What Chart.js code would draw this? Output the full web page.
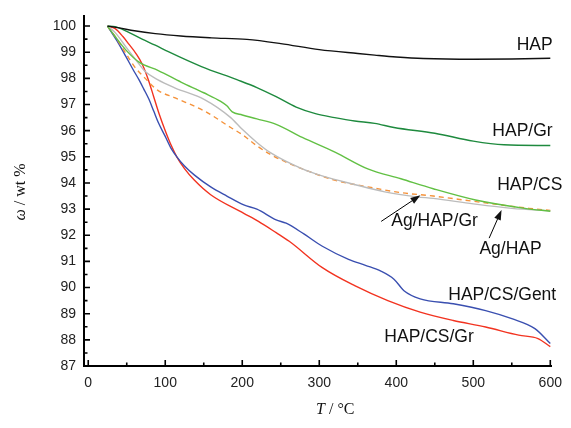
<!DOCTYPE html>
<html>
<head>
<meta charset="utf-8">
<script src="https://cdn.jsdelivr.net/npm/chart.js@4.4.1/dist/chart.umd.min.js"></script>
<style>
  html, body { margin:0; padding:0; background:#fff; }
  #wrap { width:571px; height:428px; }
</style>
</head>
<body>
<div id="wrap"><canvas id="tga" width="571" height="428"></canvas></div>
<script>
/* ---------- Data ---------- */
const hapT   = [25, 40, 60, 87, 120, 160, 206, 250, 300, 350, 372, 400, 435, 500, 550, 600];
const hapW   = [100, 99.93, 99.82, 99.71, 99.62, 99.55, 99.49, 99.33, 99.1, 98.95, 98.89, 98.82, 98.76, 98.73, 98.74, 98.77];

const hapGrT = [25, 35, 50, 70, 87, 104, 147, 193, 219, 244, 270, 295, 320, 346, 372, 397, 450, 500, 540, 600];
const hapGrW = [100, 99.98, 99.8, 99.5, 99.27, 99.02, 98.45, 97.95, 97.65, 97.3, 96.9, 96.65, 96.5, 96.37, 96.28, 96.12, 95.9, 95.6, 95.46, 95.43];

const hapCsT = [25, 35, 49, 66, 91, 121, 150, 172, 180, 187, 200, 219, 244, 278, 321, 363, 406, 448, 503, 567, 600];
const hapCsW = [100, 99.6, 99.08, 98.62, 98.3, 97.85, 97.45, 97.12, 96.95, 96.72, 96.6, 96.45, 96.24, 95.74, 95.17, 94.54, 94.16, 93.78, 93.35, 93.03, 92.92];

const agHapT = [25, 35, 49, 62, 74, 90, 113, 151, 185, 200, 219, 236, 278, 308, 342, 385, 427, 448, 500, 550, 600];
const agHapW = [100, 99.75, 99.2, 98.7, 98.26, 97.95, 97.63, 97.19, 96.5, 96.05, 95.55, 95.17, 94.54, 94.23, 93.97, 93.66, 93.47, 93.41, 93.2, 93.03, 92.93];

const agHapGrT = [25, 35, 50, 60, 74, 90, 113, 151, 185, 200, 219, 236, 278, 321, 363, 406, 448, 500, 572, 600];
const agHapGrW = [100, 99.6, 98.9, 98.45, 98.0, 97.55, 97.25, 96.75, 96.12, 95.85, 95.42, 95.1, 94.54, 94.1, 93.85, 93.63, 93.5, 93.3, 93.03, 92.95];

const gentT = [25, 37, 49, 58, 66, 72, 79, 85, 91, 100, 108, 115, 125, 138, 159, 180, 202, 219, 244, 257, 280, 304, 338, 360, 380, 397, 410, 431, 474, 516, 550, 580, 600];
const gentW = [100, 99.45, 98.83, 98.35, 97.94, 97.6, 97.19, 96.75, 96.31, 95.78, 95.3, 95.0, 94.65, 94.3, 93.85, 93.5, 93.16, 93.0, 92.59, 92.46, 92.05, 91.58, 91.08, 90.85, 90.63, 90.32, 89.88, 89.57, 89.38, 89.12, 88.81, 88.43, 87.86];

const csGrT = [25, 35, 45, 53, 62, 70, 78, 85, 92, 100, 108, 115, 125, 138, 159, 202, 221, 244, 261, 304, 346, 389, 431, 474, 516, 559, 584, 600];
const csGrW = [100, 99.9, 99.6, 99.3, 98.95, 98.55, 97.95, 97.3, 96.65, 96.0, 95.42, 95.0, 94.55, 94.1, 93.55, 92.84, 92.53, 92.1, 91.77, 90.76, 90.07, 89.5, 89.06, 88.74, 88.49, 88.18, 88.05, 87.74];

const xTicks = [0, 100, 200, 300, 400, 500, 600];
const xMinor = [50, 150, 250, 350, 450, 550];
const yTicks = [87, 88, 89, 90, 91, 92, 93, 94, 95, 96, 97, 98, 99, 100];
const yMinor = [87.5, 88.5, 89.5, 90.5, 91.5, 92.5, 93.5, 94.5, 95.5, 96.5, 97.5, 98.5, 99.5];

// curve labels: [text, T, w, align]
const curveLabels = [
  ['HAP', 603, 99.27, 'right'],
  ['HAP/Gr', 603, 95.99, 'right'],
  ['HAP/CS', 531, 93.91, 'left'],
  ['Ag/HAP/Gr', 393.5, 92.53, 'left'],
  ['Ag/HAP', 508, 91.47, 'left'],
  ['HAP/CS/Gent', 467.5, 89.69, 'left'],
  ['HAP/CS/Gr', 384.5, 88.11, 'left']
];
// arrows: [fromT, fromW, toT, toW]
const arrows = [
  [380.4, 92.53, 431.4, 93.53],
  [520.6, 91.89, 536.7, 92.97]
];

function pts(ts, ws){ return ts.map((t,i)=>({x:t, y:ws[i]})); }

/* ---------- Axis decorations, labels, arrows ---------- */
const deco = {
  id:'deco',
  afterDraw(chart){
    const {ctx, chartArea:a, scales:{x, y}} = chart;
    ctx.save();
    ctx.strokeStyle = '#000';
    ctx.lineWidth = 1.6;
    ctx.beginPath();
    xTicks.forEach(v=>{ const px = x.getPixelForValue(v); ctx.moveTo(px, a.bottom); ctx.lineTo(px, a.bottom-6); });
    xMinor.forEach(v=>{ const px = x.getPixelForValue(v); ctx.moveTo(px, a.bottom); ctx.lineTo(px, a.bottom-3.5); });
    yTicks.forEach(v=>{ const py = y.getPixelForValue(v); ctx.moveTo(a.left, py); ctx.lineTo(a.left+6, py); });
    yMinor.forEach(v=>{ const py = y.getPixelForValue(v); ctx.moveTo(a.left, py); ctx.lineTo(a.left+3.5, py); });
    ctx.stroke();

    // curve labels
    ctx.fillStyle = '#111';
    ctx.font = '17.5px "Liberation Sans", Arial, sans-serif';
    ctx.textBaseline = 'middle';
    curveLabels.forEach(([txt, t, w, al])=>{
      ctx.textAlign = al;
      ctx.fillText(txt, x.getPixelForValue(t), y.getPixelForValue(w));
    });

    // arrows
    ctx.lineWidth = 1;
    arrows.forEach(([t0, w0, t1, w1])=>{
      const x0 = x.getPixelForValue(t0), y0 = y.getPixelForValue(w0);
      const x1 = x.getPixelForValue(t1), y1 = y.getPixelForValue(w1);
      const ang = Math.atan2(y1-y0, x1-x0);
      const hl = 10, hw = 3.5;
      const bx = x1 - hl*Math.cos(ang), by = y1 - hl*Math.sin(ang);
      ctx.beginPath(); ctx.moveTo(x0, y0); ctx.lineTo(bx, by); ctx.stroke();
      ctx.beginPath();
      ctx.moveTo(x1, y1);
      ctx.lineTo(bx + hw*Math.sin(ang), by - hw*Math.cos(ang));
      ctx.lineTo(bx - hw*Math.sin(ang), by + hw*Math.cos(ang));
      ctx.closePath(); ctx.fill();
    });

    // axis titles (italic symbol + upright unit)
    ctx.textBaseline = 'alphabetic';
    ctx.textAlign = 'left';
    const it = 'italic 16px "Liberation Serif", "Times New Roman", serif';
    const up = '16px "Liberation Serif", "Times New Roman", serif';
    // x title
    ctx.font = it; const wT = ctx.measureText('T').width;
    ctx.font = up; const wU = ctx.measureText(' / °C').width;
    let sx = (x.getPixelForValue(300) + 16) - (wT + wU)/2;
    ctx.font = it; ctx.fillText('T', sx, 414);
    ctx.font = up; ctx.fillText(' / °C', sx + wT, 414);
    // y title
    ctx.translate(25, 192);
    ctx.rotate(-Math.PI/2);
    ctx.font = it; const wO = ctx.measureText('ω').width;
    ctx.font = up; const wR = ctx.measureText(' / wt %').width;
    sx = -(wO + wR)/2;
    ctx.font = it; ctx.fillText('ω', sx, 0);
    ctx.font = up; ctx.fillText(' / wt %', sx + wO, 0);
    ctx.restore();
  }
};

function line(data, color, dash){
  return {
    data, borderColor: color, borderWidth: 1.4, pointRadius: 0,
    borderDash: dash || [], cubicInterpolationMode: 'monotone', fill: false
  };
}

new Chart(document.getElementById('tga').getContext('2d'), {
  type: 'line',
  data: {
    datasets: [
      line(pts(hapT, hapW), '#111111'),
      line(pts(hapGrT, hapGrW), '#1e8a3e'),
      line(pts(hapCsT, hapCsW), '#62c044'),
      line(pts(agHapT, agHapW), '#bcbcbc'),
      line(pts(agHapGrT, agHapGrW), '#f5923a', [5, 4]),
      line(pts(gentT, gentW), '#3a4fb0'),
      line(pts(csGrT, csGrW), '#f23320')
    ]
  },
  options: {
    responsive: false,
    animation: false,
    layout: { padding: { top: 12, right: 11, left: 0, bottom: 0 } },
    plugins: { legend: { display: false }, tooltip: { enabled: false } },
    scales: {
      x: {
        type: 'linear', min: -5.5, max: 601,
        afterBuildTicks: s => { s.ticks = xTicks.map(v=>({value:v})); },
        afterFit: s => { s.height = 62; },
        grid: { display: false, drawTicks: false },
        border: { display: true, color: '#000', width: 2 },
        ticks: { padding: 9, color: '#222', font: { family: '"Liberation Sans", Arial, sans-serif', size: 14 }, maxRotation: 0 }
      },
      y: {
        type: 'linear', min: 87, max: 100.37,
        afterBuildTicks: s => { s.ticks = yTicks.map(v=>({value:v})); },
        afterFit: s => { s.width = 84; },
        grid: { display: false, drawTicks: false },
        border: { display: true, color: '#000', width: 2 },
        ticks: { padding: 8, color: '#222', font: { family: '"Liberation Sans", Arial, sans-serif', size: 14 } }
      }
    }
  },
  plugins: [deco]
});
</script>
</body>
</html>
